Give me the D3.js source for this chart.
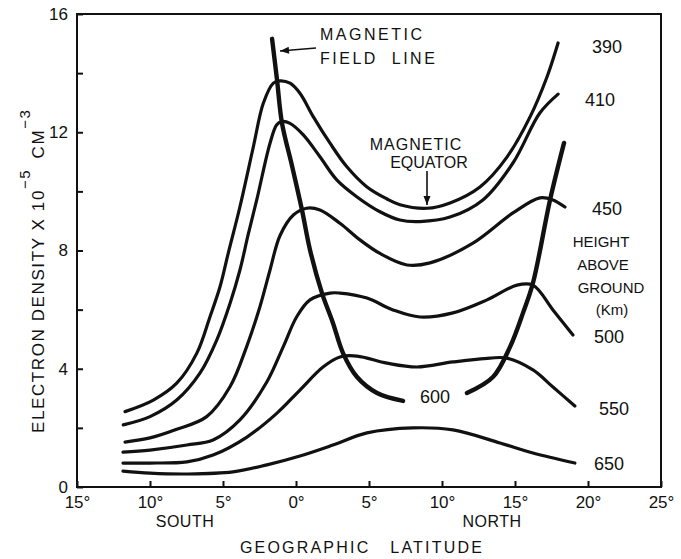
<!DOCTYPE html>
<html lang="en">
  <head>
    <meta charset="utf-8">
    <title>Electron density vs latitude</title>
    <style type="text/css">
      body{
        margin: 0;
        background-color: white;
      }
      svg text{
        font-family: "Liberation Sans", "DejaVu Sans", sans-serif;
        fill: #111;
      }
      .tick line{
        stroke: #111;
        stroke-width: 2px;
      }
      .domain{
        display: none;
      }
    </style>
  </head>
  <body>
    <div id='chart'></div>

    <script src="https://d3js.org/d3.v7.min.js"></script>
    <script type="text/javascript">

      // geographic latitude (deg, south negative) and electron density (x 10^5 cm^-3) for each height
      const lat390 = [-11.71, -9.77, -8.17, -6.8, -5.89, -5.2, -4.64, -3.84, -2.92, -2.24, -1.55, -1.1, -0.41, 0.27, 1.18, 2.33, 3.47, 4.84, 6.21, 7.12, 8.97, 10.55, 12.6, 14.45, 16.03, 17.19, 17.95];
      const ne390  = [2.55, 2.94, 3.51, 4.52, 5.76, 6.78, 7.91, 9.48, 11.51, 12.98, 13.66, 13.74, 13.66, 13.32, 12.53, 11.63, 10.84, 10.16, 9.75, 9.55, 9.43, 9.61, 10.15, 11.16, 12.52, 13.87, 15.02];

      const lat410 = [-11.83, -10.0, -8.17, -6.58, -5.43, -4.52, -3.84, -3.27, -2.69, -1.78, -1.32, -0.98, -0.41, 0.5, 1.64, 2.79, 4.16, 5.75, 7.12, 8.49, 10.55, 12.8, 14.86, 16.7, 17.95];
      const ne410  = [2.10, 2.38, 2.94, 3.85, 4.97, 6.21, 7.34, 8.55, 9.71, 11.63, 12.25, 12.36, 12.3, 11.91, 11.17, 10.39, 9.82, 9.31, 9.03, 8.98, 9.13, 9.71, 10.96, 12.65, 13.29];

      const lat450 = [-11.71, -10.0, -8.17, -6.12, -4.52, -3.38, -2.47, -1.78, -1.1, -0.18, 0.73, 1.64, 3.01, 4.38, 5.75, 7.6, 9.18, 12.12, 14.86, 16.71, 17.6, 18.42];
      const ne450  = [1.52, 1.66, 1.95, 2.38, 3.39, 4.75, 6.1, 7.34, 8.5, 9.2, 9.43, 9.37, 8.92, 8.36, 7.9, 7.51, 7.58, 8.25, 9.27, 9.78, 9.71, 9.47];

      const lat500 = [-11.85, -10.0, -7.47, -5.68, -3.84, -2.0, -0.87, 0.05, 0.96, 2.33, 3.01, 4.86, 6.64, 8.49, 10.75, 13.08, 15.14, 16.23, 17.6, 18.97];
      const ne500  = [1.18, 1.25, 1.42, 1.59, 2.27, 3.55, 4.75, 5.76, 6.33, 6.56, 6.56, 6.39, 5.99, 5.75, 5.89, 6.33, 6.83, 6.83, 5.99, 5.14];

      const lat550 = [-11.85, -10.0, -7.47, -5.68, -3.36, -1.30, 0.27, 1.85, 3.01, 4.18, 6.23, 8.29, 10.75, 13.29, 14.45, 16.23, 17.6, 19.1];
      const ne550  = [0.81, 0.81, 0.85, 1.08, 1.69, 2.50, 3.28, 4.06, 4.40, 4.43, 4.19, 4.06, 4.23, 4.36, 4.36, 3.96, 3.38, 2.74];

      const lat650 = [-11.85, -10.0, -7.47, -4.32, -1.99, 0.27, 2.53, 4.86, 8.0, 10.75, 13.97, 16.23, 19.1];
      const ne650  = [0.54, 0.47, 0.44, 0.51, 0.75, 1.05, 1.42, 1.83, 2.0, 1.93, 1.49, 1.15, 0.81];

      // magnetic field line (600 km), two branches either side of its label
      const fieldLatS = [-1.64, -1.30, -0.96, -0.27, 0.41, 0.96, 1.78, 2.53, 3.22, 4.18, 5.55, 7.33];
      const fieldNeS  = [15.16, 13.77, 12.31, 10.86, 9.37, 8.02, 6.56, 5.55, 4.53, 3.72, 3.18, 2.91];
      const fieldLatN = [11.71, 13.49, 14.66, 15.55, 16.23, 17.4, 18.36];
      const fieldNeN  = [3.18, 3.72, 4.74, 5.89, 6.9, 9.71, 11.64];

      const xTicks = [-15, -10, -5, 0, 5, 10, 15, 20, 25];
      const yTicks = [0, 2, 4, 6, 8, 10, 12, 14, 16];

      const curves = [
        {lat: lat390, ne: ne390},
        {lat: lat410, ne: ne410},
        {lat: lat450, ne: ne450},
        {lat: lat500, ne: ne500},
        {lat: lat550, ne: ne550},
        {lat: lat650, ne: ne650}
      ];

      const w = 681;
      const h = 559;

      const svg = d3.select('#chart').append('svg').attr('width', w).attr('height', h);

      const scaleX = d3.scaleLinear().domain([-15, 25]).range([77, 661]);
      const scaleY = d3.scaleLinear().domain([0, 16]).range([487, 14]);

      // frame
      svg.append('rect').attr('x', 77).attr('y', 14).attr('width', 584).attr('height', 473)
          .attr('fill', 'none').attr('stroke', '#111').attr('stroke-width', 2);

      const xAxis = d3.axisBottom(scaleX).tickValues(xTicks).tickSize(-6).tickPadding(9)
          .tickFormat(d => Math.abs(d) + '°');
      const yAxis = d3.axisLeft(scaleY).tickValues(yTicks).tickSize(-6).tickPadding(9)
          .tickFormat(d => d % 4 === 0 ? d : '');

      svg.append('g').attr('transform', 'translate(0,487)').call(xAxis)
          .selectAll('text').style('font-size', '17px');
      svg.append('g').attr('transform', 'translate(77,0)').call(yAxis)
          .selectAll('text').style('font-size', '17px');

      const line = d3.line().x(d => scaleX(d[0])).y(d => scaleY(d[1]))
          .curve(d3.curveCatmullRom.alpha(0.5));

      svg.selectAll('.curve').data(curves).enter().append('path')
          .attr('class', 'curve')
          .attr('d', c => line(d3.zip(c.lat, c.ne)))
          .attr('fill', 'none').attr('stroke', '#111').attr('stroke-width', 3.2)
          .attr('stroke-linecap', 'round');

      svg.selectAll('.field').data([d3.zip(fieldLatS, fieldNeS), d3.zip(fieldLatN, fieldNeN)]).enter().append('path')
          .attr('class', 'field')
          .attr('d', line)
          .attr('fill', 'none').attr('stroke', '#111').attr('stroke-width', 4.4)
          .attr('stroke-linecap', 'round');

      function label(x, y, t, size, anchor, spacing){
        svg.append('text').attr('x', x).attr('y', y).text(t)
            .style('font-size', size + 'px')
            .style('letter-spacing', (spacing || 0) + 'px')
            .attr('text-anchor', anchor || 'start')
            .attr('xml:space', 'preserve');
      }

      label(320, 40, 'MAGNETIC', 16, 'start', 2.5);
      label(320, 64, 'FIELD  LINE', 16, 'start', 2.5);
      label(416, 150, 'MAGNETIC', 16, 'middle', 1);
      label(429, 168, 'EQUATOR', 16, 'middle', 0);

      label(607, 53, '390', 18, 'middle');
      label(600, 106, '410', 18, 'middle');
      label(607, 215, '450', 18, 'middle');
      label(601, 247, 'HEIGHT', 15, 'middle');
      label(603, 270, 'ABOVE', 15, 'middle');
      label(611, 293, 'GROUND', 15, 'middle');
      label(612, 315, '(Km)', 15, 'middle');
      label(609, 343, '500', 18, 'middle');
      label(614, 415, '550', 18, 'middle');
      label(609, 470, '650', 18, 'middle');
      label(435, 403, '600', 18, 'middle');

      label(185, 527, 'SOUTH', 16, 'middle', 0.5);
      label(492, 527, 'NORTH', 16, 'middle', 0.5);
      label(362, 553, 'GEOGRAPHIC   LATITUDE', 16, 'middle', 2.2);

      // y axis title, rotated
      const yt = svg.append('text').attr('transform', 'translate(44,433) rotate(-90)')
          .style('font-size', '17px').style('letter-spacing', '1.6px');
      yt.append('tspan').text('ELECTRON  DENSITY X 10');
      yt.append('tspan').text('−5').attr('dy', -14).style('font-size', '15px');
      yt.append('tspan').text(' CM').attr('dy', 14).attr('dx', 4);
      yt.append('tspan').text('−3').attr('dy', -14).style('font-size', '15px');

      // arrows
      function arrow(x1, y1, x2, y2){
        svg.append('line').attr('x1', x1).attr('y1', y1).attr('x2', x2).attr('y2', y2)
            .attr('stroke', '#111').attr('stroke-width', 1.6);
        const a = Math.atan2(y2 - y1, x2 - x1);
        const L = 9, W = 3.5;
        const p = [[x2, y2],
          [x2 - L * Math.cos(a) + W * Math.sin(a), y2 - L * Math.sin(a) - W * Math.cos(a)],
          [x2 - L * Math.cos(a) - W * Math.sin(a), y2 - L * Math.sin(a) + W * Math.cos(a)]];
        svg.append('polygon').attr('points', p.map(q => q.join(',')).join(' ')).attr('fill', '#111');
      }
      arrow(316, 48, 280, 51);
      arrow(427, 171, 427, 205);

    </script>
  </body>
</html>
